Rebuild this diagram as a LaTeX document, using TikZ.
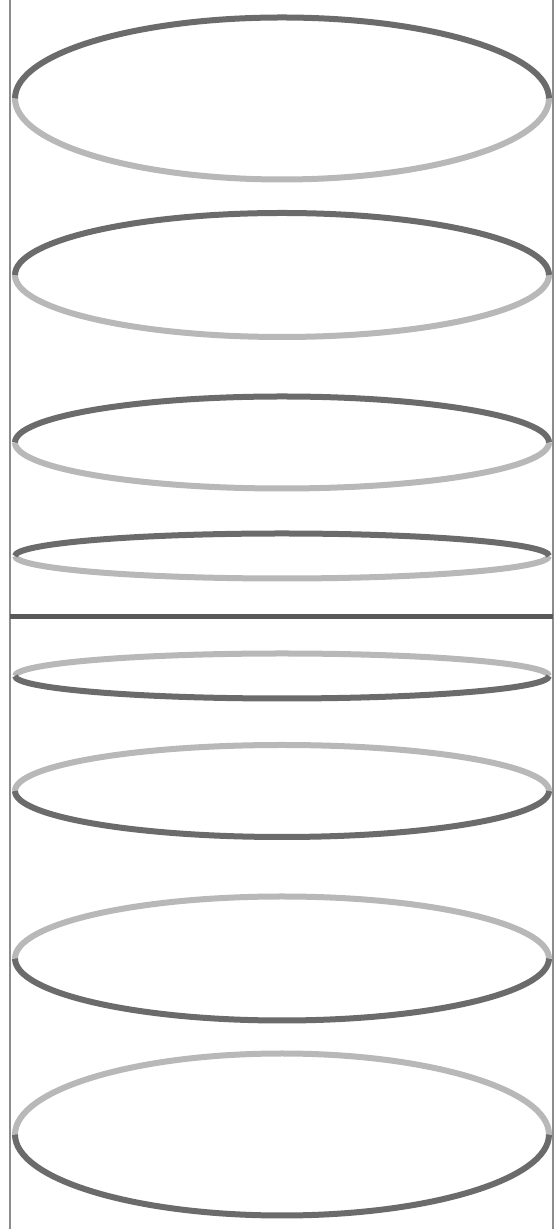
\documentclass[tikz,border=0pt]{standalone}
\begin{document}
\begin{tikzpicture}[x=1pt,y=1pt,
  side/.style={draw=black!45,line width=1.8pt},
  darkarc/.style={draw=black!58,line width=6pt},
  lightarc/.style={draw=black!28,line width=6pt},
  midline/.style={draw=black!65,line width=4.5pt}]
\useasboundingbox (0,0) rectangle (558,1229);
\fill[white] (0,0) rectangle (558,1229);
% cylinder sides
\draw[side] (10,0) -- (10,1229);
\draw[side] (553,0) -- (553,1229);
% upper rings: dark upper half, light lower half
\foreach \cy/\ry in {1130.5/81, 954/62, 786.5/46, 673/22.5}{
  \draw[lightarc] (282+267,\cy) arc[start angle=0,end angle=-180,x radius=267,y radius=\ry];
  \draw[darkarc] (282+267,\cy) arc[start angle=0,end angle=180,x radius=267,y radius=\ry];
}
% middle line
\draw[midline] (10,612.5) -- (553,612.5);
% lower rings: light upper half, dark lower half
\foreach \cy/\ry in {553/22.5, 438/46, 270.5/62, 94.5/81}{
  \draw[lightarc] (282+267,\cy) arc[start angle=0,end angle=180,x radius=267,y radius=\ry];
  \draw[darkarc] (282+267,\cy) arc[start angle=0,end angle=-180,x radius=267,y radius=\ry];
}
\end{tikzpicture}
\end{document}
